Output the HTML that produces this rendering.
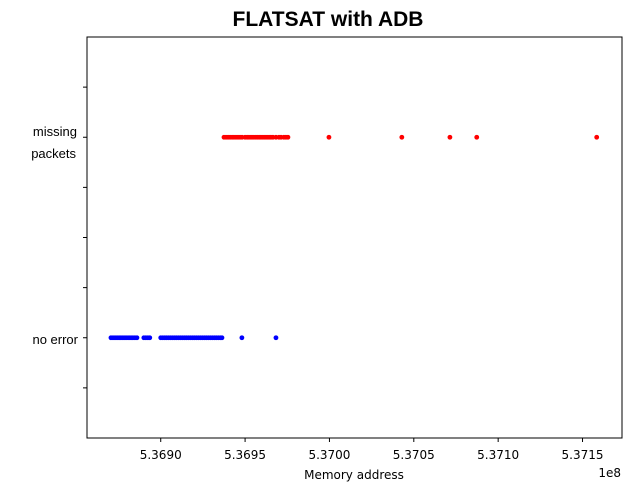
<!DOCTYPE html>
<html><head><meta charset="utf-8"><style>
body{margin:0;background:#fff;}
svg text{font-family:"Liberation Sans","DejaVu Sans",sans-serif;fill:#000;}
svg text.dv{font-family:"DejaVu Sans","Liberation Sans",sans-serif;}
</style></head><body>
<svg id="chart" width="640" height="492">
<text x="328" y="26" text-anchor="middle" font-size="21" font-weight="bold">FLATSAT with ADB</text>
<g id="marks"></g>
<rect x="87" y="37" width="535" height="401" fill="none" stroke="#000" stroke-width="1"/>
<g id="axes"></g>
<text class="dv" x="354" y="479" text-anchor="middle" font-size="12">Memory address</text>
<text class="dv" x="621" y="477" text-anchor="end" font-size="12">1e8</text>
</svg>
<script>
// addresses in units of 1e4
const missingAddr=[53693.75,53693.87,53693.99,53694.11,53694.23,53694.34,53694.46,53694.58,53694.70,53694.82,53695.00,53695.12,53695.23,53695.35,53695.47,53695.59,53695.71,53695.83,53695.94,53696.06,53696.18,53696.30,53696.42,53696.53,53696.65,53696.83,53697.01,53697.13,53697.30,53697.42,53697.54,53699.97,53704.29,53707.14,53708.73,53715.84];
const noErrorAddr=[53687.05,53687.17,53687.29,53687.41,53687.53,53687.64,53687.76,53687.88,53688.00,53688.12,53688.24,53688.35,53688.47,53688.59,53689.00,53689.12,53689.24,53689.35,53690.00,53690.12,53690.24,53690.35,53690.47,53690.59,53690.71,53690.83,53690.94,53691.06,53691.18,53691.30,53691.42,53691.53,53691.65,53691.77,53691.89,53692.00,53692.12,53692.24,53692.36,53692.48,53692.60,53692.71,53692.83,53692.95,53693.07,53693.19,53693.30,53693.42,53693.54,53693.63,53694.81,53696.83];
const xTickVals=[53690,53695,53700,53705,53710,53715];
const xTickLabels=["5.3690","5.3695","5.3700","5.3705","5.3710","5.3715"];
const yCats=["no error","missing packets"];
const NS="http://www.w3.org/2000/svg";
const x0=53685.63,x1=53717.34,px0=87,px1=622;
function xs(v){return px0+(v-x0)/(x1-x0)*(px1-px0);}
function ys(c){return 438-(c+0.5)/2*401;}
const marks=document.getElementById('marks'),axes=document.getElementById('axes');
function dot(v,c,col,name){const e=document.createElementNS(NS,'circle');e.setAttribute('cx',xs(v));e.setAttribute('cy',ys(c));e.setAttribute('r',2.4);e.setAttribute('fill',col);


marks.appendChild(e);}
noErrorAddr.forEach(v=>dot(v,0,'#0000ff','no-error-point'));
missingAddr.forEach(v=>dot(v,1,'#ff0000','missing-packet-point'));
function line(x1_,y1,x2,y2,name){const l=document.createElementNS(NS,'line');l.setAttribute('x1',x1_);l.setAttribute('y1',y1);l.setAttribute('x2',x2);l.setAttribute('y2',y2);l.setAttribute('stroke','#000');


axes.appendChild(l);}
function txt(x,y,s,anchor,name,cls){const t=document.createElementNS(NS,'text');t.setAttribute('x',x);t.setAttribute('y',y);t.setAttribute('font-size',cls?'12':'13');t.setAttribute('text-anchor',anchor);if(cls)t.setAttribute('class',cls);t.textContent=s;


axes.appendChild(t);}
xTickVals.forEach((v,i)=>{const x=xs(v);line(x,438,x,442,'x-tick');txt(x,459,xTickLabels[i],'middle','x-tick-label','dv');});
for(let c=-0.25;c<=1.26;c+=0.25){const y=ys(c);line(83,y,87,y,'y-tick');}
txt(78,344,yCats[0],'end','y-tick-label');
txt(77,136,"missing",'end','y-tick-label');
txt(76,158,"packets",'end','y-tick-label');
</script>
</body></html>
